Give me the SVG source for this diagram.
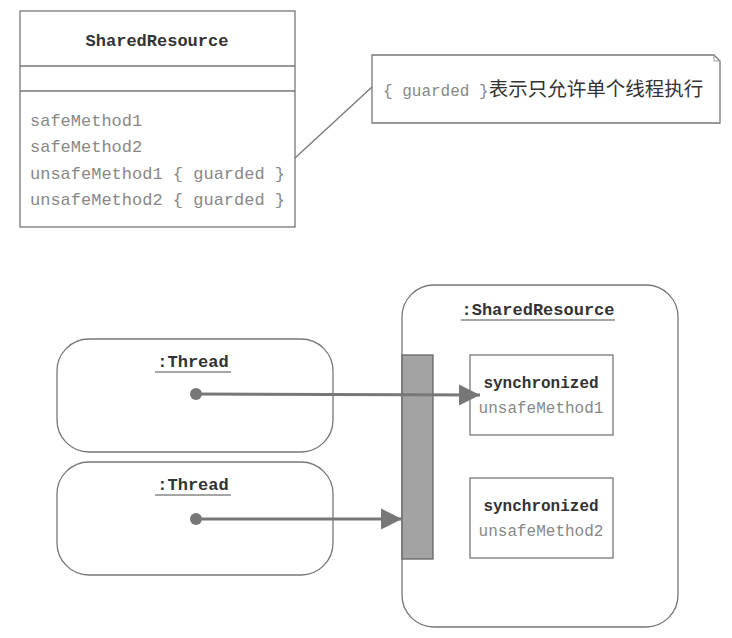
<svg xmlns="http://www.w3.org/2000/svg" width="732" height="638" viewBox="0 0 732 638">
<style>
.box{fill:#fff;stroke:#777;stroke-width:1.3}
.mono{font-family:"Liberation Mono","DejaVu Sans Mono",monospace}
.title{font-weight:bold;fill:#333;font-size:17px}
.meth{fill:#888;font-size:17px}
.sync{font-weight:bold;fill:#333;font-size:16px}
.um{fill:#888;font-size:16px}
.conn{stroke:#777;stroke-width:3;fill:none}
</style>
<defs>
<marker id="arr" viewBox="0 0 10 10" refX="10" refY="5" markerWidth="7" markerHeight="7.5" markerUnits="strokeWidth" orient="auto">
<path d="M0,0 L10,5 L0,10 Z" fill="#777"/>
</marker>
</defs>
<rect width="732" height="638" fill="#fff"/>
<g id="class-SharedResource">
<rect class="box" x="20" y="11" width="275" height="216"/>
<line x1="20" y1="66" x2="295" y2="66" stroke="#777" stroke-width="1.3"/>
<line x1="20" y1="91" x2="295" y2="91" stroke="#777" stroke-width="1.3"/>
<text class="mono title" x="157" y="46" text-anchor="middle">SharedResource</text>
<text class="mono meth" x="30" y="126">safeMethod1</text>
<text class="mono meth" x="30" y="152">safeMethod2</text>
<text class="mono meth" x="30" y="179">unsafeMethod1 { guarded }</text>
<text class="mono meth" x="30" y="205">unsafeMethod2 { guarded }</text>
</g>
<g id="note">
<path d="M372,55 L714,55 L720,61 L720,123 L372,123 Z" fill="#fff" stroke="#777" stroke-width="1.3"/>
<path d="M714,55 L714,61 L720,61" fill="none" stroke="#999" stroke-width="1"/>
<text x="383" y="96" font-size="16"><tspan class="mono" fill="#888">{ guarded }</tspan><tspan font-family="'Noto Sans CJK SC',sans-serif" font-size="19.5" fill="#333">表示只允许单个线程执行</tspan></text>
</g>
<g id="obj-SharedResource">
<rect class="box" x="402" y="285" width="276" height="342" rx="32" ry="32"/>
<text class="mono title" x="538" y="315" text-anchor="middle">:SharedResource</text>
<line x1="461" y1="320" x2="615" y2="320" stroke="#888" stroke-width="1.5"/>
</g>
<g id="lock-bar">
<rect x="402" y="355" width="31" height="204" fill="#a3a3a3" stroke="#666" stroke-width="1.3"/>
</g>
<g id="method1">
<rect class="box" x="470" y="355" width="143" height="80"/>
<text class="mono sync" x="541" y="388" text-anchor="middle">synchronized</text>
<text class="mono um" x="541" y="413" text-anchor="middle">unsafeMethod1</text>
</g>
<g id="method2">
<rect class="box" x="470" y="478" width="143" height="80"/>
<text class="mono sync" x="541" y="511" text-anchor="middle">synchronized</text>
<text class="mono um" x="541" y="536" text-anchor="middle">unsafeMethod2</text>
</g>
<g id="thread1">
<rect class="box" x="57" y="339" width="276" height="113" rx="32" ry="32"/>
<text class="mono title" x="193" y="367" text-anchor="middle">:Thread</text>
<line x1="155" y1="372" x2="231" y2="372" stroke="#888" stroke-width="1.5"/>
</g>
<g id="thread2">
<rect class="box" x="57" y="462" width="276" height="113" rx="32" ry="32"/>
<text class="mono title" x="193" y="490" text-anchor="middle">:Thread</text>
<line x1="155" y1="495" x2="231" y2="495" stroke="#888" stroke-width="1.5"/>
</g>
<g id="connectors">
<line x1="295" y1="158" x2="372" y2="87" stroke="#777" stroke-width="1.3"/>
<circle cx="196" cy="394" r="6" fill="#777"/>
<line class="conn" x1="196" y1="394" x2="480" y2="395" marker-end="url(#arr)"/>
<circle cx="196" cy="519" r="6" fill="#777"/>
<line class="conn" x1="196" y1="519" x2="402" y2="519" marker-end="url(#arr)"/>
</g>
</svg>
